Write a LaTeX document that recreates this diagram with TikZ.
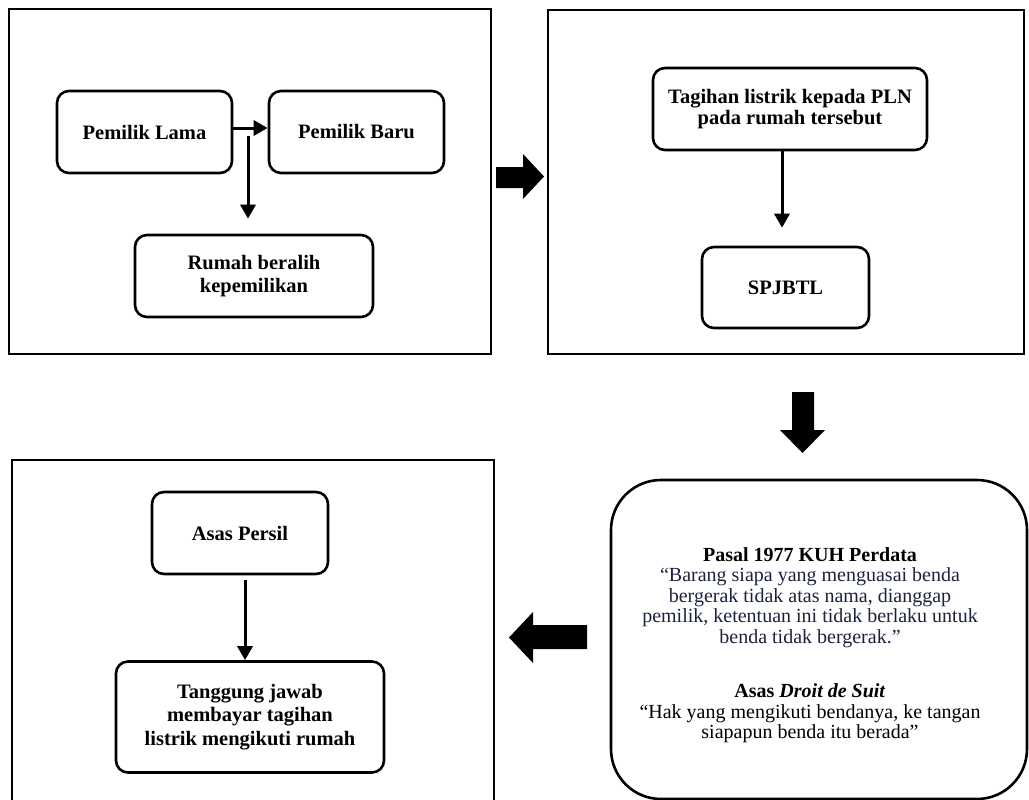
\documentclass[tikz,border=0pt]{standalone}
\usepackage{fontspec}
\setmainfont{Liberation Serif}
\usetikzlibrary{arrows.meta}
\definecolor{navytext}{RGB}{28,34,62}
\begin{document}
\begin{tikzpicture}[x=1pt,y=-1pt,
  frame/.style={draw, line width=2.6pt, inner sep=0pt},
  rbox/.style={draw, line width=2.6pt, rounded corners=12pt, align=center,
    font=\fontsize{20.5}{22.5}\selectfont\bfseries, inner sep=0pt},
  arr/.style={line width=3pt, -{Triangle[length=14pt,width=15pt]}},
  blockarrow/.style={fill=black, draw=none}
]
\useasboundingbox (0,0) rectangle (1029,800);
% frames
\node[frame, minimum width=482pt, minimum height=345pt] (A) at (250,181.5) {};
\node[frame, minimum width=476pt, minimum height=344pt] (B) at (786,182) {};
\node[frame, minimum width=482pt, minimum height=345pt] (C) at (253,632.5) {};
\node[draw, line width=2.6pt, rounded corners=50pt, minimum width=416pt, minimum height=319pt] (D) at (819,639.5) {};
% panel A
\node[rbox, minimum width=175pt, minimum height=82pt] (lama) at (144.5,132) {Pemilik Lama};
\node[rbox, minimum width=175pt, minimum height=82pt] (baru) at (356.5,132) {Pemilik Baru};
\node[rbox, minimum width=238pt, minimum height=82pt, font=\fontsize{20.5}{23}\selectfont\bfseries] (rumah) at (254,276) {Rumah beralih\\kepemilikan};
\coordinate (j) at (248,136);
\draw[arr] ([yshift=4pt]lama.east) -- ([yshift=4pt]baru.west);
\draw[arr, shorten >=15pt] (j) -- (j |- rumah.north);
% panel B
\node[rbox, minimum width=274pt, minimum height=82pt, font=\fontsize{20.5}{21.5}\selectfont\bfseries] (tag) at (790,109) {Tagihan listrik kepada PLN\\pada rumah tersebut};
\node[rbox, minimum width=167pt, minimum height=81pt] (spj) at (785.5,287.5) {SPJBTL};
\coordinate (bx) at (782,0);
\draw[arr, shorten >=18pt] (tag.south -| bx) -- (spj.north -| bx);
% panel C
\node[rbox, minimum width=176pt, minimum height=82pt] (persil) at (240,533) {Asas Persil};
\node[rbox, minimum width=268pt, minimum height=111pt, font=\fontsize{20.5}{23.5}\selectfont\bfseries] (tang) at (250,717) {Tanggung jawab\\membayar tagihan\\listrik mengikuti rumah};
\coordinate (cx) at (245,0);
\draw[arr, shorten <=5pt] (persil.south -| cx) -- (tang.north -| cx);
% panel D text
\node[align=center, text=navytext, font=\fontsize{20}{20.5}\selectfont, inner sep=0pt] (dtext) at (810,645)
 {\textbf{\color{black}Pasal 1977 KUH Perdata}\\
  “Barang siapa yang menguasai benda\\
  bergerak tidak atas nama, dianggap\\
  pemilik, ketentuan ini tidak berlaku untuk\\
  benda tidak bergerak.”\\[34pt]
  \textbf{\color{black}Asas \textit{Droit de Suit}}\\
  {\color{black}“Hak yang mengikuti bendanya, ke tangan}\\
  {\color{black}siapapun benda itu berada”}};
% block arrows
\fill[blockarrow] (496,167) -- (523,167) -- (523,154) -- (544,176.5) -- (523,199) -- (523,188) -- (496,188) -- cycle;
\fill[blockarrow] (792,392) -- (814,392) -- (814,430) -- (825,430) -- (802.5,453) -- (780,430) -- (792,430) -- cycle;
\fill[blockarrow] (587,625) -- (533,625) -- (533,612) -- (509,637.5) -- (533,663) -- (533,649) -- (587,649) -- cycle;
\end{tikzpicture}
\end{document}
